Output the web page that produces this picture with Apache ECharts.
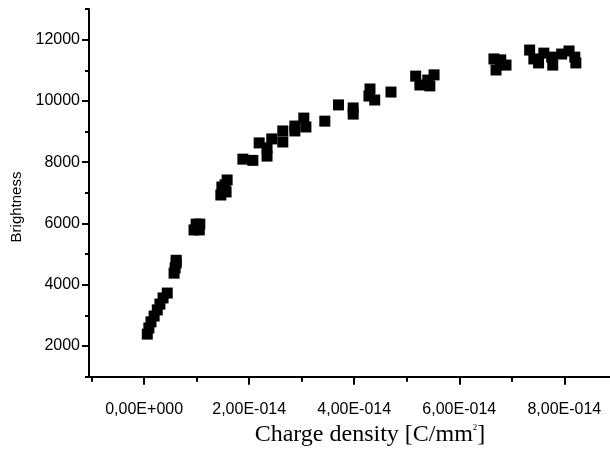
<!DOCTYPE html>
<html>
<head>
<meta charset="utf-8">
<script src="https://cdn.jsdelivr.net/npm/echarts@6/dist/echarts.min.js"></script>
<style>
html,body{margin:0;padding:0;background:#fff;}
#chart{width:610px;height:449px;}
</style>
</head>
<body>
<div id="chart"></div>
<script>
// Charge density values in units of 1e-14 C/mm^2
var chargeDensity = [
  0.06, 0.09, 0.13, 0.19, 0.25, 0.30, 0.36, 0.44,
  0.57, 0.59, 0.61, 0.61,
  0.95, 0.99, 1.01, 1.05, 1.06,
  1.46, 1.48, 1.50, 1.54, 1.56, 1.58,
  1.88, 2.07, 2.19, 2.34, 2.34, 2.43, 2.64, 2.64, 2.87, 2.87, 3.04, 3.08,
  3.44, 3.70, 3.98, 3.98, 4.30, 4.39, 4.28, 4.70,
  5.17, 5.25, 5.40, 5.52, 5.44,
  6.66, 6.79, 6.70, 6.89,
  7.34, 7.42, 7.51, 7.61, 7.76, 7.78, 7.95, 8.09, 8.20, 8.22
];
var brightness = [
  2390, 2590, 2790, 2980, 3180, 3370, 3570, 3730,
  4380, 4550, 4710, 4800,
  5790, 5980, 5890, 5790, 5980,
  6930, 7190, 7090, 7260, 7030, 7420,
  8100, 8060, 8630, 8470, 8200, 8760, 9020, 8660, 9180, 9020, 9440, 9150,
  9340, 9870, 9770, 9570, 10390, 10030, 10160, 10290,
  10810, 10520, 10680, 10850, 10490,
  11370, 11340, 11010, 11170,
  11660, 11370, 11240, 11560, 11430, 11170, 11530, 11630, 11430, 11240
];
var xMajorTicks = [0, 2e-14, 4e-14, 6e-14, 8e-14];
var xMinorTicks = [-1e-14, 1e-14, 3e-14, 5e-14, 7e-14];
var yMajorTicks = [2000, 4000, 6000, 8000, 10000, 12000];
var yMinorTicks = [1000, 3000, 5000, 7000, 9000, 11000, 13000];

var points = chargeDensity.map(function (c, i) { return [c * 1e-14, brightness[i]]; });

function fmtSci(v) {
  if (Math.abs(v) < 1e-30) return '0,00E+000';
  var e = Math.floor(Math.log10(Math.abs(v)) + 1e-9);
  var m = v / Math.pow(10, e);
  var s = m.toFixed(2).replace('.', ',');
  var es = (e < 0 ? '-' : '+') + String(Math.abs(e)).padStart(3, '0');
  return s + 'E' + es;
}

var XMIN = -1.05e-14, XMAX = 8.87e-14, YMIN = 1000, YMAX = 13000;
var lineStyle = { color: '#000', width: 2 };

var chart = echarts.init(document.getElementById('chart'));
chart.setOption({
  animation: false,
  backgroundColor: '#fff',
  grid: { left: 89, top: 9, right: 0, bottom: 72.3 },
  xAxis: [{
    type: 'value', min: XMIN, max: XMAX, position: 'bottom',
    axisLine: { show: true, onZero: false, lineStyle: lineStyle },
    axisTick: { show: true, length: 8, lineStyle: lineStyle, customValues: xMajorTicks },
    axisLabel: {
      show: true, customValues: xMajorTicks, margin: 25,
      color: '#000', fontFamily: 'Liberation Sans, Arial, sans-serif', fontSize: 16,
      formatter: fmtSci
    },
    splitLine: { show: false }
  }, {
    type: 'value', min: XMIN, max: XMAX, position: 'bottom',
    axisLine: { show: false, onZero: false },
    axisTick: { show: true, length: 5, lineStyle: lineStyle, customValues: xMinorTicks },
    axisLabel: { show: false },
    splitLine: { show: false }
  }],
  yAxis: [{
    type: 'value', min: YMIN, max: YMAX, position: 'left',
    axisLine: { show: true, onZero: false, lineStyle: lineStyle },
    axisTick: { show: true, length: 7, lineStyle: lineStyle, customValues: yMajorTicks },
    axisLabel: {
      show: true, customValues: yMajorTicks, margin: 9,
      color: '#000', fontFamily: 'Liberation Sans, Arial, sans-serif', fontSize: 16,
      formatter: function (v) { return String(v); }
    },
    splitLine: { show: false }
  }, {
    type: 'value', min: YMIN, max: YMAX, position: 'left',
    axisLine: { show: false, onZero: false },
    axisTick: { show: true, length: 4, lineStyle: lineStyle, customValues: yMinorTicks },
    axisLabel: { show: false },
    splitLine: { show: false }
  }],
  graphic: [{
    type: 'text', x: 17, y: 207, rotation: Math.PI / 2,
    style: {
      text: 'Brightness', fill: '#000',
      font: '15px "Liberation Sans", Arial, sans-serif',
      textAlign: 'center', textVerticalAlign: 'middle'
    }
  }, {
    type: 'text', x: 370, y: 435,
    style: {
      text: '{a|Charge density [C/mm}{s|2}{a|]}',
      fill: '#000', textAlign: 'center', textVerticalAlign: 'middle',
      rich: {
        a: { fontFamily: 'Liberation Serif, Times New Roman, serif', fontSize: 24, fill: '#000' },
        s: { fontFamily: 'Liberation Serif, Times New Roman, serif', fontSize: 9, fill: '#000', verticalAlign: 'top' }
      }
    }
  }],
  series: [{
    type: 'scatter', xAxisIndex: 0, yAxisIndex: 0,
    symbol: 'rect', symbolSize: 11,
    itemStyle: { color: '#000', opacity: 1 },
    data: points
  }]
});
</script>
</body>
</html>
